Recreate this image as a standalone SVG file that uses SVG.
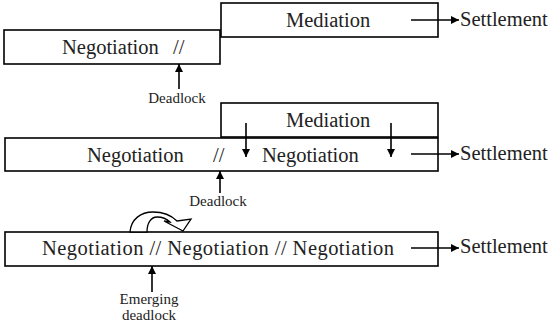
<svg xmlns="http://www.w3.org/2000/svg" width="552" height="329" viewBox="0 0 552 329">
  <defs>
    <marker id="head" viewBox="0 0 10 10" refX="10" refY="5" markerWidth="9" markerHeight="8" markerUnits="userSpaceOnUse" orient="auto">
      <path d="M0,0 L10,5 L0,10 Z" fill="#000"/>
    </marker>
    <style>
      text { font-family: 'Liberation Serif', 'DejaVu Serif', serif; }
      .box { fill: #fff; stroke: #000; stroke-width: 1.6; }
      .big { font-size: 20.5px; fill: #222; }
      .small { font-size: 15px; fill: #222; text-anchor: middle; }
      .arrow { stroke: #000; stroke-width: 1.6; fill: none; marker-end: url(#head); }
    </style>
  </defs>

  <!-- Scenario 1: negotiation reaches deadlock, mediation leads to settlement -->
  <g id="neg1">
    <rect class="box" x="4" y="30" width="216" height="34"/>
    <text class="big" x="62" y="54">Negotiation</text>
    <text class="big" x="173" y="54">//</text>
  </g>
  <g id="med1">
    <rect class="box" x="221" y="3" width="217" height="34"/>
    <text class="big" x="286" y="27">Mediation</text>
  </g>
  <g id="settle1">
    <text class="big" x="460" y="26">Settlement</text>
  </g>
  <g id="deadlock1">
    <text class="small" x="177" y="103">Deadlock</text>
  </g>

  <!-- Scenario 2: mediation feeds back into renewed negotiation -->
  <g id="med2">
    <rect class="box" x="221" y="103" width="217" height="34"/>
    <text class="big" x="286" y="127">Mediation</text>
  </g>
  <g id="neg2">
    <rect class="box" x="5" y="138" width="433" height="33"/>
    <text class="big" x="87" y="162">Negotiation</text>
    <text class="big" x="213" y="162">//</text>
    <text class="big" x="262" y="162">Negotiation</text>
  </g>
  <g id="settle2">
    <text class="big" x="460" y="160">Settlement</text>
  </g>
  <g id="deadlock2">
    <text class="small" x="218" y="206">Deadlock</text>
  </g>

  <!-- Scenario 3: negotiation rounds continue past emerging deadlocks -->
  <g id="neg3">
    <rect class="box" x="5" y="232" width="433" height="34"/>
    <text class="big" x="42" y="255" textLength="352" lengthAdjust="spacing">Negotiation // Negotiation // Negotiation</text>
  </g>
  <g id="settle3">
    <text class="big" x="460" y="253">Settlement</text>
  </g>
  <g id="emerging">
    <text class="small" x="149" y="304">Emerging</text>
    <text class="small" x="149" y="320">deadlock</text>
  </g>

  <g id="loop">
    <path d="M130,232 C131,219 141,212 153,212 C164,212 172,216 177,221 L191,219 L183,231 L164,221 L170,222 C166,218 162,217 157,217 C151,217 147,223 147,232 Z" fill="#fff" stroke="#000" stroke-width="1.3" stroke-linejoin="miter"/>
  </g>

  <!-- Connectors -->
  <g id="connectors">
    <line class="arrow" x1="411" y1="20" x2="459" y2="20"/>
    <line class="arrow" x1="179" y1="89" x2="179" y2="64"/>
    <line class="arrow" x1="246" y1="123" x2="246" y2="157"/>
    <line class="arrow" x1="391" y1="123" x2="391" y2="157"/>
    <line class="arrow" x1="411" y1="154" x2="459" y2="154"/>
    <line class="arrow" x1="220" y1="193" x2="220" y2="171"/>
    <line class="arrow" x1="411" y1="248" x2="459" y2="248"/>
    <line class="arrow" x1="152" y1="292" x2="152" y2="266"/>
  </g>
</svg>
